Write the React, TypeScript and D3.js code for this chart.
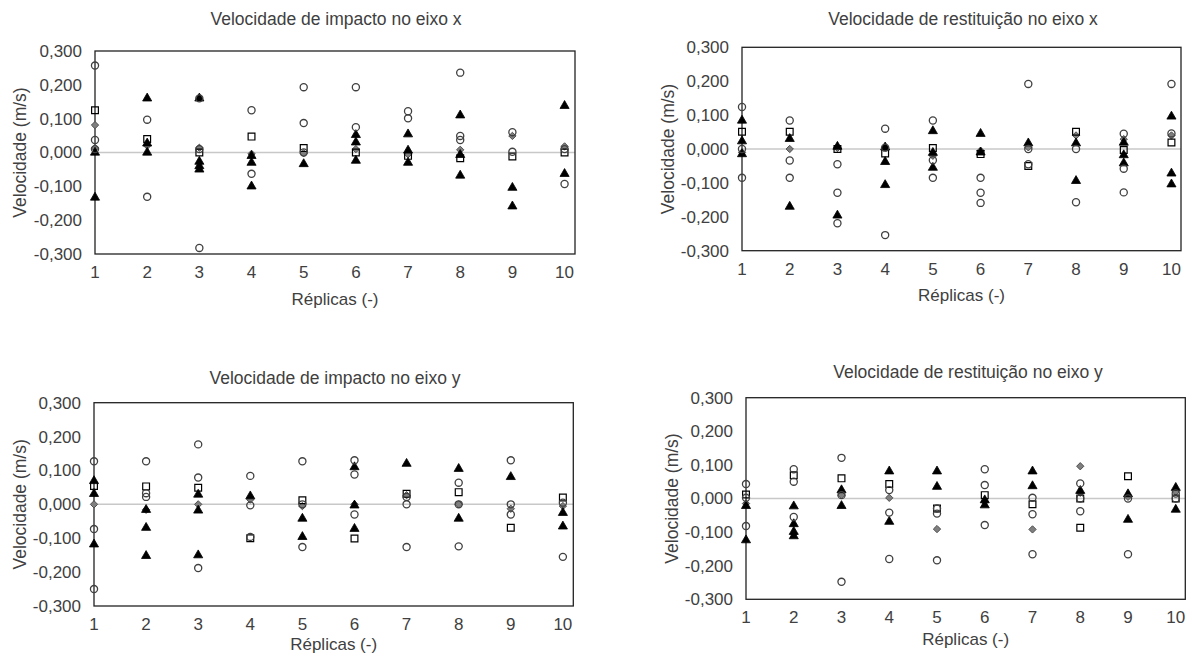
import React from "react";
import * as d3 from "d3";

// ---------- DATA ----------
const replicas = [1, 2, 3, 4, 5, 6, 7, 8, 9, 10];
const yTicks = [-0.3, -0.2, -0.1, 0, 0.1, 0.2, 0.3];

const titles = [
  "Velocidade de impacto no eixo x",
  "Velocidade de restituição no eixo x",
  "Velocidade de impacto no eixo y",
  "Velocidade de restituição no eixo y",
];
const yAxisTitle = "Velocidade (m/s)";
const xAxisTitle = "Réplicas (-)";

// Impact X
const impactXCircles = [
  [0.257, 0.037, 0.01], [0.097, -0.131], [0.16, 0.01, -0.282], [0.125, -0.063], [0.193, 0.087, 0.0],
  [0.193, 0.075], [0.122, 0.101], [0.236, 0.049, 0.037], [0.06, 0.002], [0.01, -0.093],
];
const impactXTriangles = [
  [0.0, -0.133], [0.16, 0.027, 0.0], [0.16, -0.027, -0.04, -0.05], [-0.01, -0.03, -0.1], [-0.034],
  [0.052, 0.03, -0.024], [0.054, 0.006, -0.03], [0.11, -0.007, -0.068], [-0.104, -0.159], [0.138, -0.063],
];
const impactXSquares = [[0.125], [0.04], [0.0], [0.047], [0.013], [0.0], [-0.01], [-0.017], [-0.012], [0.0]];
const impactXDiamonds = [[0.081, 0.013], [0.02], [0.014], [-0.004], [-0.002], [0.01], [-0.005], [0.008], [0.049], [0.018]];

// Restitution X
const restitXCircles = [
  [0.124, 0.0, -0.085], [0.084, -0.034, -0.085], [-0.045, -0.129, -0.219], [0.06, 0.004, -0.254], [0.084, -0.033, -0.085],
  [-0.085, -0.129, -0.159], [0.192, 0.0, -0.045], [0.0, -0.157], [0.045, -0.058, -0.128], [0.192, 0.046],
];
const restitXTriangles = [
  [0.084, 0.023, -0.015], [0.03, -0.17], [0.007, -0.196], [0.005, -0.038, -0.106], [0.053, -0.011, -0.055],
  [0.045, -0.01], [0.017], [0.017, -0.094], [0.019, -0.018, -0.042], [0.096, -0.072, -0.104],
];
const restitXSquares = [[0.051], [0.051], [0.0], [-0.013], [0.003], [-0.015], [-0.05], [0.051], [-0.003], [0.019]];
const restitXDiamonds = [[-0.01], [0.0], [0.003], [0.004], [-0.02], [-0.005], [0.005], [0.04], [0.029], [0.04]];

// Impact Y
const impactYCircles = [
  [0.127, -0.073, -0.25], [0.127, 0.033, 0.022], [0.177, 0.079, -0.188], [0.084, -0.003, -0.096], [0.127, 0.0, -0.126],
  [0.13, 0.088, -0.03], [0.022, 0.0, -0.126], [0.064, 0.0, -0.124], [0.13, 0.0, -0.03], [0.005, -0.155],
];
const impactYTriangles = [
  [0.069, 0.031, -0.118], [-0.016, -0.069, -0.152], [0.029, -0.018, -0.15], [0.024], [-0.042, -0.096],
  [0.11, -0.003, -0.072], [0.12], [0.105, -0.042], [0.081], [-0.025, -0.065],
];
const impactYSquares = [[0.054], [0.053], [0.049], [-0.1], [0.012], [-0.101], [0.031], [0.036], [-0.069], [0.02]];
const impactYDiamonds = [[0.0], [-0.016], [0.0], [0.014], [-0.005], [0.0], [0.027], [0.0], [-0.013], [-0.005]];

// Restitution Y
const restitYCircles = [
  [0.043, 0.002, -0.082], [0.087, 0.05, -0.055], [0.121, 0.01, -0.248], [0.025, -0.042, -0.18], [-0.03, -0.045, -0.184],
  [0.087, 0.04, -0.079], [0.002, -0.047, -0.166], [0.045, 0.0, -0.038], [0.0, -0.166], [0.015, 0.0],
];
const restitYTriangles = [
  [-0.022, -0.124], [-0.023, -0.076, -0.099, -0.112], [0.025, -0.022], [0.081, -0.069], [0.081, 0.035],
  [-0.005, -0.02], [0.081, 0.037], [0.023], [0.013, -0.063], [0.032, -0.033],
];
const restitYSquares = [[0.012], [0.069], [0.06], [0.043], [-0.03], [0.01], [-0.017], [0.0, -0.087], [0.066], [0.0]];
const restitYDiamonds = [[-0.015], [-0.105], [0.01], [0.002], [-0.091], [-0.01], [-0.092], [0.096, 0.017], [0.005], [0.02]];

// ---------- LAYOUT ----------
const W = 1192;
const H = 659;
const FONT = "'Liberation Sans', Arial, sans-serif";
const TEXT = "#404040";

const locale = d3.formatLocale({ decimal: ",", thousands: ".", grouping: [3], currency: ["", ""], minus: "-" });
const fmt = locale.format(".3f");

type Layout = {
  l: number; t: number; r: number; b: number;
  titleX: number; titleY: number; yTitleX: number; xTitleY: number;
};

const layouts: Layout[] = [
  { l: 95, t: 51, r: 575, b: 254, titleX: 336, titleY: 25, yTitleX: 20, xTitleY: 305 },
  { l: 742, t: 47.3, r: 1181, b: 250.7, titleX: 963, titleY: 25, yTitleX: 668, xTitleY: 301 },
  { l: 94, t: 402.7, r: 573.3, b: 606, titleX: 335, titleY: 384, yTitleX: 20, xTitleY: 650 },
  { l: 746, t: 397.7, r: 1185.3, b: 599.3, titleX: 968, titleY: 378, yTitleX: 672, xTitleY: 645 },
];

const panelData = [
  { circles: impactXCircles, triangles: impactXTriangles, squares: impactXSquares, diamonds: impactXDiamonds },
  { circles: restitXCircles, triangles: restitXTriangles, squares: restitXSquares, diamonds: restitXDiamonds },
  { circles: impactYCircles, triangles: impactYTriangles, squares: impactYSquares, diamonds: impactYDiamonds },
  { circles: restitYCircles, triangles: restitYTriangles, squares: restitYSquares, diamonds: restitYDiamonds },
];

function flatten(arr: number[][]) {
  const out: { rep: number; v: number }[] = [];
  arr.forEach((vals, i) => vals.forEach((v) => out.push({ rep: replicas[i], v })));
  return out;
}

const symCircle = d3.symbol(d3.symbolCircle, 40)();
const symTriangle = d3.symbol(d3.symbolTriangle, 36)();
const symSquare = d3.symbol(d3.symbolSquare, 46)();
const symDiamond = d3.symbol((d3 as any).symbolDiamond2 || d3.symbolDiamond, 34)();

function Panel({ idx }: { idx: number }) {
  const L = layouts[idx];
  const D = panelData[idx];
  const x = d3.scaleLinear().domain([1, 10.2]).range([L.l, L.r]);
  const y = d3.scaleLinear().domain([-0.3, 0.3]).range([L.b, L.t]);
  const mk = (arr: number[][], path: string, style: any, key: string) =>
    flatten(arr).map((p, i) => (
      <path key={key + i} d={path} transform={`translate(${x(p.rep)},${y(p.v)})`} {...style} />
    ));
  return (
    <g>
      <text x={L.titleX} y={L.titleY} textAnchor="middle" fontSize={17.5} fill={TEXT} fontFamily={FONT}>
        {titles[idx]}
      </text>
      {/* zero line */}
      <line x1={L.l} x2={L.r} y1={y(0)} y2={y(0)} stroke="#c8c8c8" strokeWidth={1.5} />
      {/* plot frame */}
      <rect x={L.l} y={L.t} width={L.r - L.l} height={L.b - L.t} fill="none" stroke="#222" strokeWidth={1.3} />
      {/* y ticks */}
      {yTicks.map((t) => (
        <text key={"y" + t} x={L.l - 13} y={y(t)} dy="0.35em" textAnchor="end" fontSize={17} fill={TEXT} fontFamily={FONT}>
          {fmt(t)}
        </text>
      ))}
      {/* x ticks */}
      {replicas.map((r) => (
        <text key={"x" + r} x={x(r)} y={L.b + 24} textAnchor="middle" fontSize={17} fill={TEXT} fontFamily={FONT}>
          {r}
        </text>
      ))}
      <text
        transform={`translate(${L.yTitleX},${(L.t + L.b) / 2}) rotate(-90)`}
        textAnchor="middle" dy="0.35em" fontSize={17.5} fill={TEXT} fontFamily={FONT}
      >
        {yAxisTitle}
      </text>
      <text x={(L.l + L.r) / 2} y={L.xTitleY} textAnchor="middle" fontSize={17} fill={TEXT} fontFamily={FONT}>
        {xAxisTitle}
      </text>
      {mk(D.diamonds, symDiamond, { fill: "#7f7f7f", stroke: "#505050", strokeWidth: 1 }, "d")}
      {mk(D.squares, symSquare, { fill: "none", stroke: "#000", strokeWidth: 1.2 }, "s")}
      {mk(D.triangles, symTriangle, { fill: "#000", stroke: "#000", strokeWidth: 0.8 }, "t")}
      {mk(D.circles, symCircle, { fill: "none", stroke: "#404040", strokeWidth: 1.3 }, "c")}
    </g>
  );
}

export default function App() {
  return (
    <svg width={W} height={H} style={{ position: "absolute", left: 0, top: 0, background: "#fff" }}>
      <rect width={W} height={H} fill="#fff" />
      {[0, 1, 2, 3].map((i) => (
        <Panel key={i} idx={i} />
      ))}
    </svg>
  );
}
